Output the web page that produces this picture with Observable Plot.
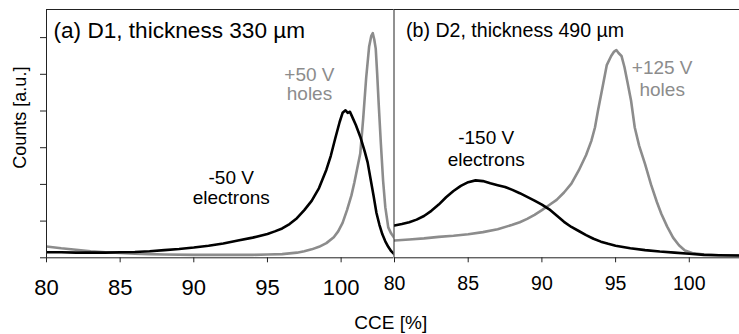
<!DOCTYPE html>
<html>
<head>
<meta charset="utf-8">
<script src="https://cdn.jsdelivr.net/npm/d3@7"></script>
<script src="https://cdn.jsdelivr.net/npm/@observablehq/plot@0.6"></script>
<style>
  html, body { margin: 0; padding: 0; background: #fff; }
  #chart { position: relative; width: 739px; height: 334px; overflow: hidden; background: #fff; }
  #chart svg { position: absolute; top: 0; }
</style>
</head>
<body>
<div id="chart"></div>
<script>
// ---- Data ----
const xTicks = [80, 85, 90, 95, 100];
const yTicks = [0, 1, 2, 3, 4, 5, 6];
const yMax = 6.766;

// (a) D1, -50 V electrons
const d1ElecCCE =    [80, 81, 82, 83, 84, 85, 86, 87, 88, 89, 90, 91, 92, 93, 94, 95, 95.5, 96, 96.5, 97, 97.5, 98, 98.5, 99, 99.3, 99.6, 99.9, 100.1, 100.3, 100.45, 100.6, 100.8, 101.0, 101.3, 101.6, 101.8, 102.0, 102.2, 102.4, 102.6, 102.8, 103.0, 103.2, 103.4, 103.6];
const d1ElecCounts = [0.15, 0.15, 0.14, 0.14, 0.14, 0.15, 0.16, 0.18, 0.21, 0.24, 0.28, 0.33, 0.39, 0.47, 0.55, 0.65, 0.72, 0.80, 0.92, 1.08, 1.30, 1.55, 1.90, 2.40, 2.78, 3.25, 3.70, 3.95, 4.02, 3.95, 3.98, 3.80, 3.62, 3.30, 2.90, 2.60, 2.15, 1.70, 1.22, 0.90, 0.64, 0.45, 0.30, 0.18, 0.10];

// (a) D1, +50 V holes
const d1HoleCCE =    [80, 81, 82, 83, 84, 85, 86, 87, 88, 90, 92, 94, 95, 96, 97, 97.5, 98, 98.5, 99, 99.5, 99.8, 100.1, 100.4, 100.7, 100.9, 101.1, 101.3, 101.5, 101.7, 101.9, 102.05, 102.15, 102.25, 102.35, 102.45, 102.55, 102.7, 102.85, 103.0, 103.2, 103.4, 103.6];
const d1HoleCounts = [0.31, 0.26, 0.22, 0.18, 0.15, 0.13, 0.11, 0.10, 0.09, 0.08, 0.08, 0.08, 0.09, 0.10, 0.14, 0.18, 0.23, 0.30, 0.40, 0.56, 0.72, 0.95, 1.30, 1.70, 2.05, 2.45, 2.84, 3.80, 4.90, 5.75, 6.05, 6.12, 5.95, 5.70, 5.00, 4.20, 3.10, 2.10, 1.38, 0.83, 0.66, 0.55];

// (b) D2, -150 V electrons
const d2ElecCCE =    [80, 80.5, 81, 81.5, 82, 82.5, 83, 83.5, 84, 84.5, 85, 85.5, 86, 86.5, 87, 87.5, 88, 88.5, 89, 89.5, 90, 90.5, 91, 91.5, 92, 92.5, 93, 93.5, 94, 94.5, 95, 96, 97, 98, 99, 100, 101, 102, 103.5];
const d2ElecCounts = [0.88, 0.92, 0.97, 1.04, 1.14, 1.28, 1.45, 1.65, 1.82, 1.96, 2.06, 2.11, 2.09, 2.03, 1.98, 1.93, 1.85, 1.76, 1.66, 1.56, 1.45, 1.32, 1.15, 0.98, 0.84, 0.73, 0.62, 0.52, 0.44, 0.38, 0.33, 0.26, 0.21, 0.17, 0.14, 0.11, 0.08, 0.07, 0.06];

// (b) D2, +125 V holes
const d2HoleCCE =    [80, 81, 82, 83, 84, 85, 86, 87, 88, 88.5, 89, 89.5, 90, 90.5, 91, 91.5, 92, 92.5, 93, 93.35, 93.6, 93.8, 94.1, 94.4, 94.7, 94.9, 95.05, 95.2, 95.4, 95.6, 95.8, 96.05, 96.3, 96.6, 97.0, 97.4, 97.8, 98.1, 98.5, 98.9, 99.3, 99.7, 100.2, 101, 102, 103.5];
const d2HoleCounts = [0.47, 0.50, 0.53, 0.57, 0.60, 0.64, 0.70, 0.78, 0.90, 0.97, 1.06, 1.17, 1.30, 1.44, 1.58, 1.78, 2.02, 2.38, 2.80, 3.18, 3.55, 4.00, 4.62, 5.25, 5.50, 5.62, 5.66, 5.58, 5.50, 5.20, 4.80, 4.28, 3.55, 3.05, 2.55, 2.00, 1.52, 1.20, 0.85, 0.55, 0.34, 0.20, 0.13, 0.09, 0.07, 0.06];

// annotation labels
const d1Notes = [
  {x: 92.54, y: 2.01, text: "-50 V", hole: false},
  {x: 92.54, y: 1.46, text: "electrons", hole: false},
  {x: 97.85, y: 4.83, text: "+50 V", hole: true},
  {x: 97.85, y: 4.29, text: "holes", hole: true}
];
const d2Notes = [
  {x: 86.22, y: 3.09, text: "-150 V", hole: false},
  {x: 86.22, y: 2.51, text: "electrons", hole: false},
  {x: 98.16, y: 5.01, text: "+125 V", hole: true},
  {x: 98.16, y: 4.40, text: "holes", hole: true}
];

const zip = (xs, ys) => xs.map((x, i) => ({x, y: ys[i]}));

const FONT = "'Liberation Sans', Arial, Helvetica, sans-serif";
const GRAY = "#8c8c8c";
const LINE = "#222";

function panel(o) {
  return Plot.plot({
    width: o.width, height: 334,
    marginTop: 9, marginBottom: 76.7, marginLeft: o.marginLeft, marginRight: o.marginRight,
    x: {domain: [80, o.xMax]},
    y: {domain: [0, yMax], axis: null},
    style: {fontFamily: FONT, background: "transparent", overflow: "visible", color: "#000"},
    marks: [
      Plot.line(o.holes, {x: "x", y: "y", stroke: GRAY, strokeWidth: 2.6, clip: true}),
      Plot.line(o.elec, {x: "x", y: "y", stroke: "#000", strokeWidth: 2.6, clip: true}),
      Plot.ruleY([0], {stroke: LINE}),
      Plot.ruleY([yMax], {stroke: LINE}),
      ...o.extra,
      Plot.axisX({ticks: xTicks, tickSize: 5, tickPadding: o.tickPadding, fontSize: o.tickFont, label: null, stroke: LINE}),
      Plot.text([o.title], {frameAnchor: "top-left", dx: o.titleDx, dy: o.titleDy, lineAnchor: "bottom", textAnchor: "start", fontSize: o.titleFont, fill: "#000"}),
      Plot.text(o.notes, {x: "x", y: "y", text: "text", fill: d => d.hole ? GRAY : "#000", fontSize: 19, lineAnchor: "bottom", textAnchor: "middle"})
    ]
  });
}

const left = panel({
  width: 393.5, marginLeft: 46, marginRight: 0, xMax: 103.59,
  tickPadding: 17, tickFont: 22,
  elec: zip(d1ElecCCE, d1ElecCounts), holes: zip(d1HoleCCE, d1HoleCounts),
  title: "(a) D1, thickness 330 \u00b5m", titleFont: 22.6, titleDx: 7, titleDy: 28,
  notes: d1Notes,
  extra: [
    Plot.ruleX([80], {stroke: LINE}),
    Plot.ruleX([103.59], {stroke: LINE}),
    Plot.axisY({ticks: yTicks, tickSize: 6, tickFormat: () => "", label: null, stroke: LINE}),
    Plot.text(["Counts [a.u.]"], {frameAnchor: "left", dx: -21, dy: -16, rotate: -90, lineAnchor: "bottom", textAnchor: "middle", fontSize: 18, fill: "#000"}),
    Plot.text(["CCE [%]"], {frameAnchor: "bottom", dx: 170.5, dy: 70.7, lineAnchor: "bottom", textAnchor: "middle", fontSize: 19, fill: "#000"})
  ]
});

const right = panel({
  width: 345.5, marginLeft: 0, marginRight: 0, xMax: 103.44,
  tickPadding: 13.7, tickFont: 19.5,
  elec: zip(d2ElecCCE, d2ElecCounts), holes: zip(d2HoleCCE, d2HoleCounts),
  title: "(b) D2, thickness 490 \u00b5m", titleFont: 19.6, titleDx: 11.5, titleDy: 27,
  notes: d2Notes,
  extra: []
});

const chart = document.getElementById("chart");
right.style.left = "393.5px";
left.style.left = "0px";
chart.appendChild(right);
chart.appendChild(left);
</script>
</body>
</html>
